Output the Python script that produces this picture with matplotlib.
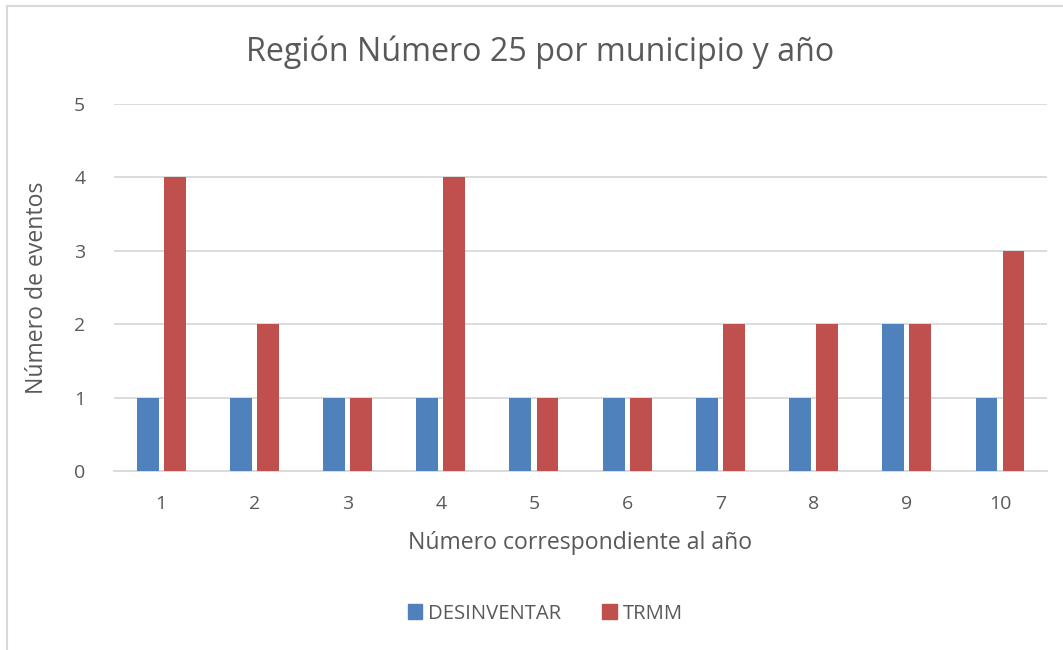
import matplotlib
matplotlib.use("Agg")
import matplotlib.pyplot as plt
from matplotlib.patches import Rectangle
from matplotlib.lines import Line2D
import numpy as np

years = [1, 2, 3, 4, 5, 6, 7, 8, 9, 10]
desinventar = [1, 1, 1, 1, 1, 1, 1, 1, 2, 1]
trmm = [4, 2, 1, 4, 1, 1, 2, 2, 2, 3]
series_names = ["DESINVENTAR", "TRMM"]
colors = ["#4F81BD", "#C0504D"]

text_color = "#595959"
grid_color = "#D9D9D9"
plt.rcParams["font.family"] = ["Open Sans", "DejaVu Sans"]

fig = plt.figure(figsize=(10.63, 6.5), dpi=100)
ax = fig.add_axes([0.1077, 0.2754, 0.8769, 0.5646])

x = np.arange(len(years))
w = 0.235
off = 0.145
ax.bar(x - off, desinventar, width=w, color=colors[0], zorder=3)
ax.bar(x + off, trmm, width=w, color=colors[1], zorder=3)

ax.set_xlim(-0.5, len(years) - 0.5)
ax.set_ylim(0, 5)
ax.set_yticks(range(0, 6))
ax.set_xticks(x)
ax.set_xticklabels([str(v) for v in years])
ax.yaxis.grid(True, color=grid_color, linewidth=1.3, zorder=0)
ax.set_axisbelow(True)
for s in ["top", "right", "left"]:
    ax.spines[s].set_visible(False)
ax.spines["bottom"].set_color(grid_color)
ax.spines["bottom"].set_linewidth(1.3)
ax.tick_params(axis="both", length=0, labelsize=14, labelcolor=text_color)
ax.tick_params(axis="x", pad=17)
ax.tick_params(axis="y", pad=21)

ax.set_xlabel("Número correspondiente al año", fontsize=16.6, color=text_color, labelpad=13)
ax.set_ylabel("Número de eventos", fontsize=16.6, color=text_color, labelpad=18)

fig.text(0.508, 0.919, "Región Número 25 por municipio y año", ha="center", va="center",
         fontsize=23.2, color=text_color)

handles = [Rectangle((0, 0), 1, 1, color=c) for c in colors]
fig.legend(handles, series_names, loc="center", bbox_to_anchor=(0.513, 0.056),
           ncol=2, frameon=False, fontsize=14.6, labelcolor=text_color,
           handlelength=0.72, handleheight=0.72, handletextpad=0.3, columnspacing=2.0)

# chart frame (top and left edges)
fig.add_artist(Line2D([7 / 1063, 1062 / 1063], [1 - 6 / 650, 1 - 6 / 650],
                      transform=fig.transFigure, color=grid_color, linewidth=1.5))
fig.add_artist(Line2D([7 / 1063, 7 / 1063], [1 - 6 / 650, 0],
                      transform=fig.transFigure, color=grid_color, linewidth=1.5))

fig.savefig("out.png", dpi=100, facecolor="white")
